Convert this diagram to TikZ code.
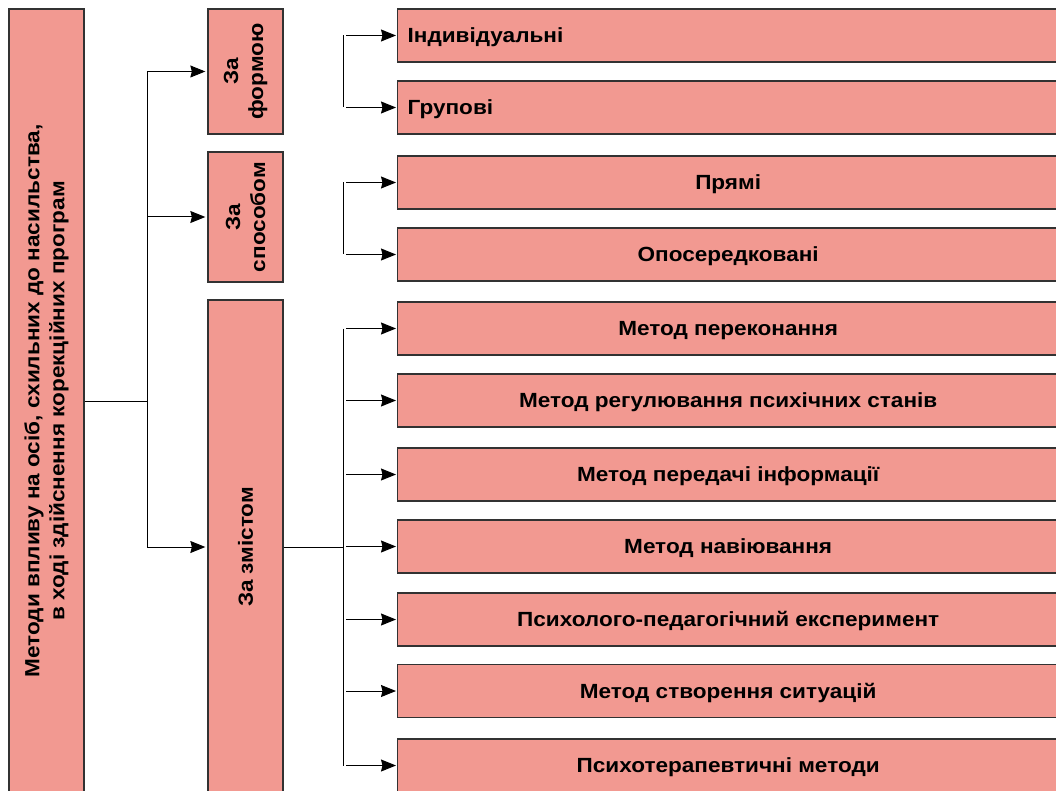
\documentclass[tikz,border=0pt]{standalone}
\usepackage{fontspec}
\setmainfont[FakeStretch=1.1]{Liberation Sans}
\usetikzlibrary{arrows.meta}
\definecolor{boxfill}{RGB}{242,153,145}
\definecolor{boxline}{RGB}{50,50,50}
\begin{document}
\begin{tikzpicture}[x=1pt,y=-1pt,
  box/.style={draw=boxline,line width=1.3pt,fill=boxfill,inner sep=0pt,
    font=\bfseries\fontsize{20.5}{25}\selectfont},
  vbox/.style={box,rotate=90,align=center,minimum height=75},
  hbox/.style={box,anchor=west,minimum width=661,minimum height=53,
    text height=14.5pt,text depth=0pt},
  lbox/.style={hbox,text width=641,align=left},
  link/.style={line width=1pt},
  arr/.style={link,-{Stealth[length=15pt,width=12pt,inset=1.5pt]}}]
\useasboundingbox (0,0) rectangle (1056,791);
%\draw[very thin,gray!40,step=50] (0,0) grid (1056,791);
% left column (rotated: north = left side, south = right side)
\node[vbox,minimum width=784] (main) at (46.5,401)
  {Методи впливу на осіб, схильних до насильства,\\в ході здійснення корекційних програм};
\node[vbox,minimum width=125] (forma) at (245.5,71.5) {За\\формою};
\node[vbox,minimum width=130] (sposib) at (245.5,217) {За\\способом};
\node[vbox,minimum width=494] (zmist) at (245.5,547) {За змістом};
% right column
\node[lbox] (indyv) at (397,35.5) {Індивідуальні};
\node[lbox] (grup) at (397,107.5) {Групові};
\node[hbox] (priami) at (397,182.5) {Прямі};
\node[hbox] (oposer) at (397,254.5) {Опосередковані};
\foreach \n/\y/\t in {perekon/328.5/Метод переконання,
  rehul/400.5/Метод регулювання психічних станів,
  peredach/474.5/Метод передачі інформації,
  naviyuv/546.5/Метод навіювання,
  eksper/619.5/Психолого-педагогічний експеримент,
  sytuats/691/Метод створення ситуацій,
  psykhoter/765.5/Психотерапевтичні методи}
{
\node[hbox] (\n) at (397,\y) {\t};
}
% connectors
\coordinate (trunk) at (147,0);
\coordinate (bar) at (343,0);
\coordinate (tail) at (346,0);
\draw[link] (main.south) -- (trunk |- main.south);
\draw[link] (trunk |- forma.north) -- (trunk |- zmist.north);
\foreach \n in {forma,sposib,zmist}
{
\draw[arr] (trunk |- \n.north) -- ([xshift=-2pt]\n.north);
}
\draw[link] (bar |- indyv.west) -- (bar |- grup.west);
\draw[link] (bar |- priami.west) -- (bar |- oposer.west);
\draw[link] (zmist.south) -- (bar |- zmist.south);
\draw[link] (bar |- perekon.west) -- (bar |- psykhoter.west);
\foreach \n in {indyv,grup,priami,oposer,perekon,rehul,peredach,naviyuv,eksper,sytuats,psykhoter}
{
\draw[arr] (tail |- \n.west) -- ([xshift=-1pt]\n.west);
}
\end{tikzpicture}
\end{document}
